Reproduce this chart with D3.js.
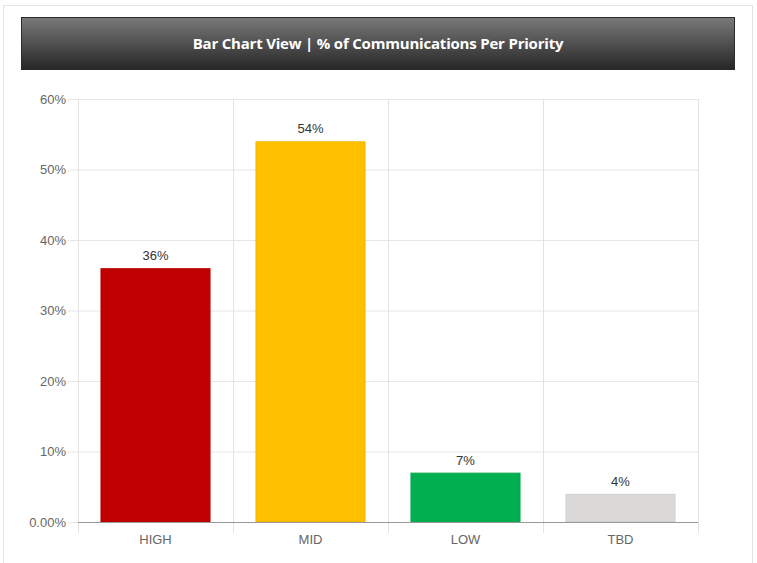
<!DOCTYPE html>
<html>
<head>
<meta charset="utf-8">
<script src="https://cdn.jsdelivr.net/npm/d3@7"></script>
<style>
  body { margin: 0; background: #fff; font-family: Arial, "Liberation Sans", sans-serif; }
  #wrapper { position: relative; width: 757px; height: 563px; }
  .grid line { stroke: #e6e6e6; }
  .y-axis text { fill: #666; font-size: 13px; }
  .x-axis text { fill: #666; font-size: 13px; }
</style>
</head>
<body>
<div id="wrapper"></div>
<script>
const categories = ["HIGH", "MID", "LOW", "TBD"];
const values = [36, 54, 7, 4];
const barColors = ["#c00000", "#ffc000", "#00b050", "#dbdad9"];
const yTicks = [0, 10, 20, 30, 40, 50, 60];
const title = "Bar Chart View | % of Communications Per Priority";

const dimensions = {
    width: 757,
    height: 563,
    margin: { top: 99, right: 59, bottom: 41, left: 78 },
}
dimensions.boundedWidth = dimensions.width - dimensions.margin.left - dimensions.margin.right;
dimensions.boundedHeight = dimensions.height - dimensions.margin.top - dimensions.margin.bottom;

const data = categories.map((c, i) => ({ name: c, value: values[i], color: barColors[i] }));

const wrapper = d3.select("#wrapper")
    .append("svg")
    .attr("width", dimensions.width)
    .attr("height", dimensions.height);

// outer panel frame
wrapper.append("rect")
    .attr("x", 3.5).attr("y", 5.5)
    .attr("width", 749).attr("height", 570)
    .attr("fill", "none")
    .attr("stroke", "#e3e3e3");

// header bar
const grad = wrapper.append("defs").append("linearGradient")
    .attr("id", "hdr").attr("x1", 0).attr("y1", 0).attr("x2", 0).attr("y2", 1);
grad.append("stop").attr("offset", "0%").attr("stop-color", "#7a7a7a");
grad.append("stop").attr("offset", "100%").attr("stop-color", "#262626");

wrapper.append("rect")
    .attr("x", 21.5).attr("y", 17.5)
    .attr("width", 713).attr("height", 52)
    .attr("fill", "url(#hdr)")
    .attr("stroke", "#2b2b2b");

wrapper.append("text")
    .attr("x", 378).attr("y", 49)
    .attr("text-anchor", "middle")
    .attr("fill", "#fff")
    .style("font-family", "'Open Sans', sans-serif")
    .style("font-weight", 700)
    .style("font-size", "15px")
    .style("letter-spacing", "-0.2px")
    .text(title);

const bounds = wrapper.append("g")
    .attr("transform", `translate(${dimensions.margin.left},${dimensions.margin.top})`);

const xScale = d3.scaleBand()
    .domain(categories)
    .range([0, dimensions.boundedWidth])
    .paddingInner(0.29)
    .paddingOuter(0.145);

const yScale = d3.scaleLinear()
    .domain([0, 60])
    .range([dimensions.boundedHeight, 0]);

// horizontal grid
bounds.append("g")
    .attr("class", "grid")
    .call(d3.axisLeft(yScale).tickValues(yTicks).tickSize(-dimensions.boundedWidth).tickFormat(""))
    .call(g => g.select(".domain").remove())
    .call(g => g.selectAll("line").attr("x1", -10).attr("stroke", "#e6e6e6"));

// vertical separators between categories
const step = dimensions.boundedWidth / categories.length;
bounds.append("g")
    .selectAll("line")
    .data(d3.range(categories.length + 1))
    .join("line")
    .attr("x1", d => d * step + 0.5)
    .attr("x2", d => d * step + 0.5)
    .attr("y1", 0)
    .attr("y2", dimensions.boundedHeight + 11)
    .attr("stroke", "#e3e3e3");

// y axis labels
const yAxis = bounds.append("g")
    .attr("class", "y-axis")
    .call(d3.axisLeft(yScale).tickValues(yTicks).tickSize(0).tickPadding(12)
        .tickFormat(d => d === 0 ? "0.00%" : d + "%"));
yAxis.select(".domain").remove();

// bars
bounds.selectAll(".bar")
    .data(data)
    .join("rect")
    .attr("class", "bar")
    .attr("x", d => xScale(d.name) + 0.5)
    .attr("y", d => yScale(d.value) + 0.5)
    .attr("width", xScale.bandwidth() - 1)
    .attr("height", d => yScale(0) - yScale(d.value) - 1)
    .attr("fill", d => d.color)
    .attr("stroke", d => d3.color(d.color).darker(0.15));

// value labels
bounds.selectAll(".val")
    .data(data)
    .join("text")
    .attr("class", "val")
    .attr("x", d => xScale(d.name) + xScale.bandwidth() / 2)
    .attr("y", d => yScale(d.value) - 8)
    .attr("text-anchor", "middle")
    .attr("fill", "#333")
    .style("font-size", "13px")
    .text(d => d.value + "%");

// x axis
const xAxis = bounds.append("g")
    .attr("class", "x-axis")
    .attr("transform", `translate(0,${dimensions.boundedHeight})`)
    .call(d3.axisBottom(xScale).tickSize(0).tickPadding(13));
xAxis.select(".domain").attr("stroke", "#999").attr("d", `M0,0.5H${dimensions.boundedWidth}`);
</script>
</body>
</html>
